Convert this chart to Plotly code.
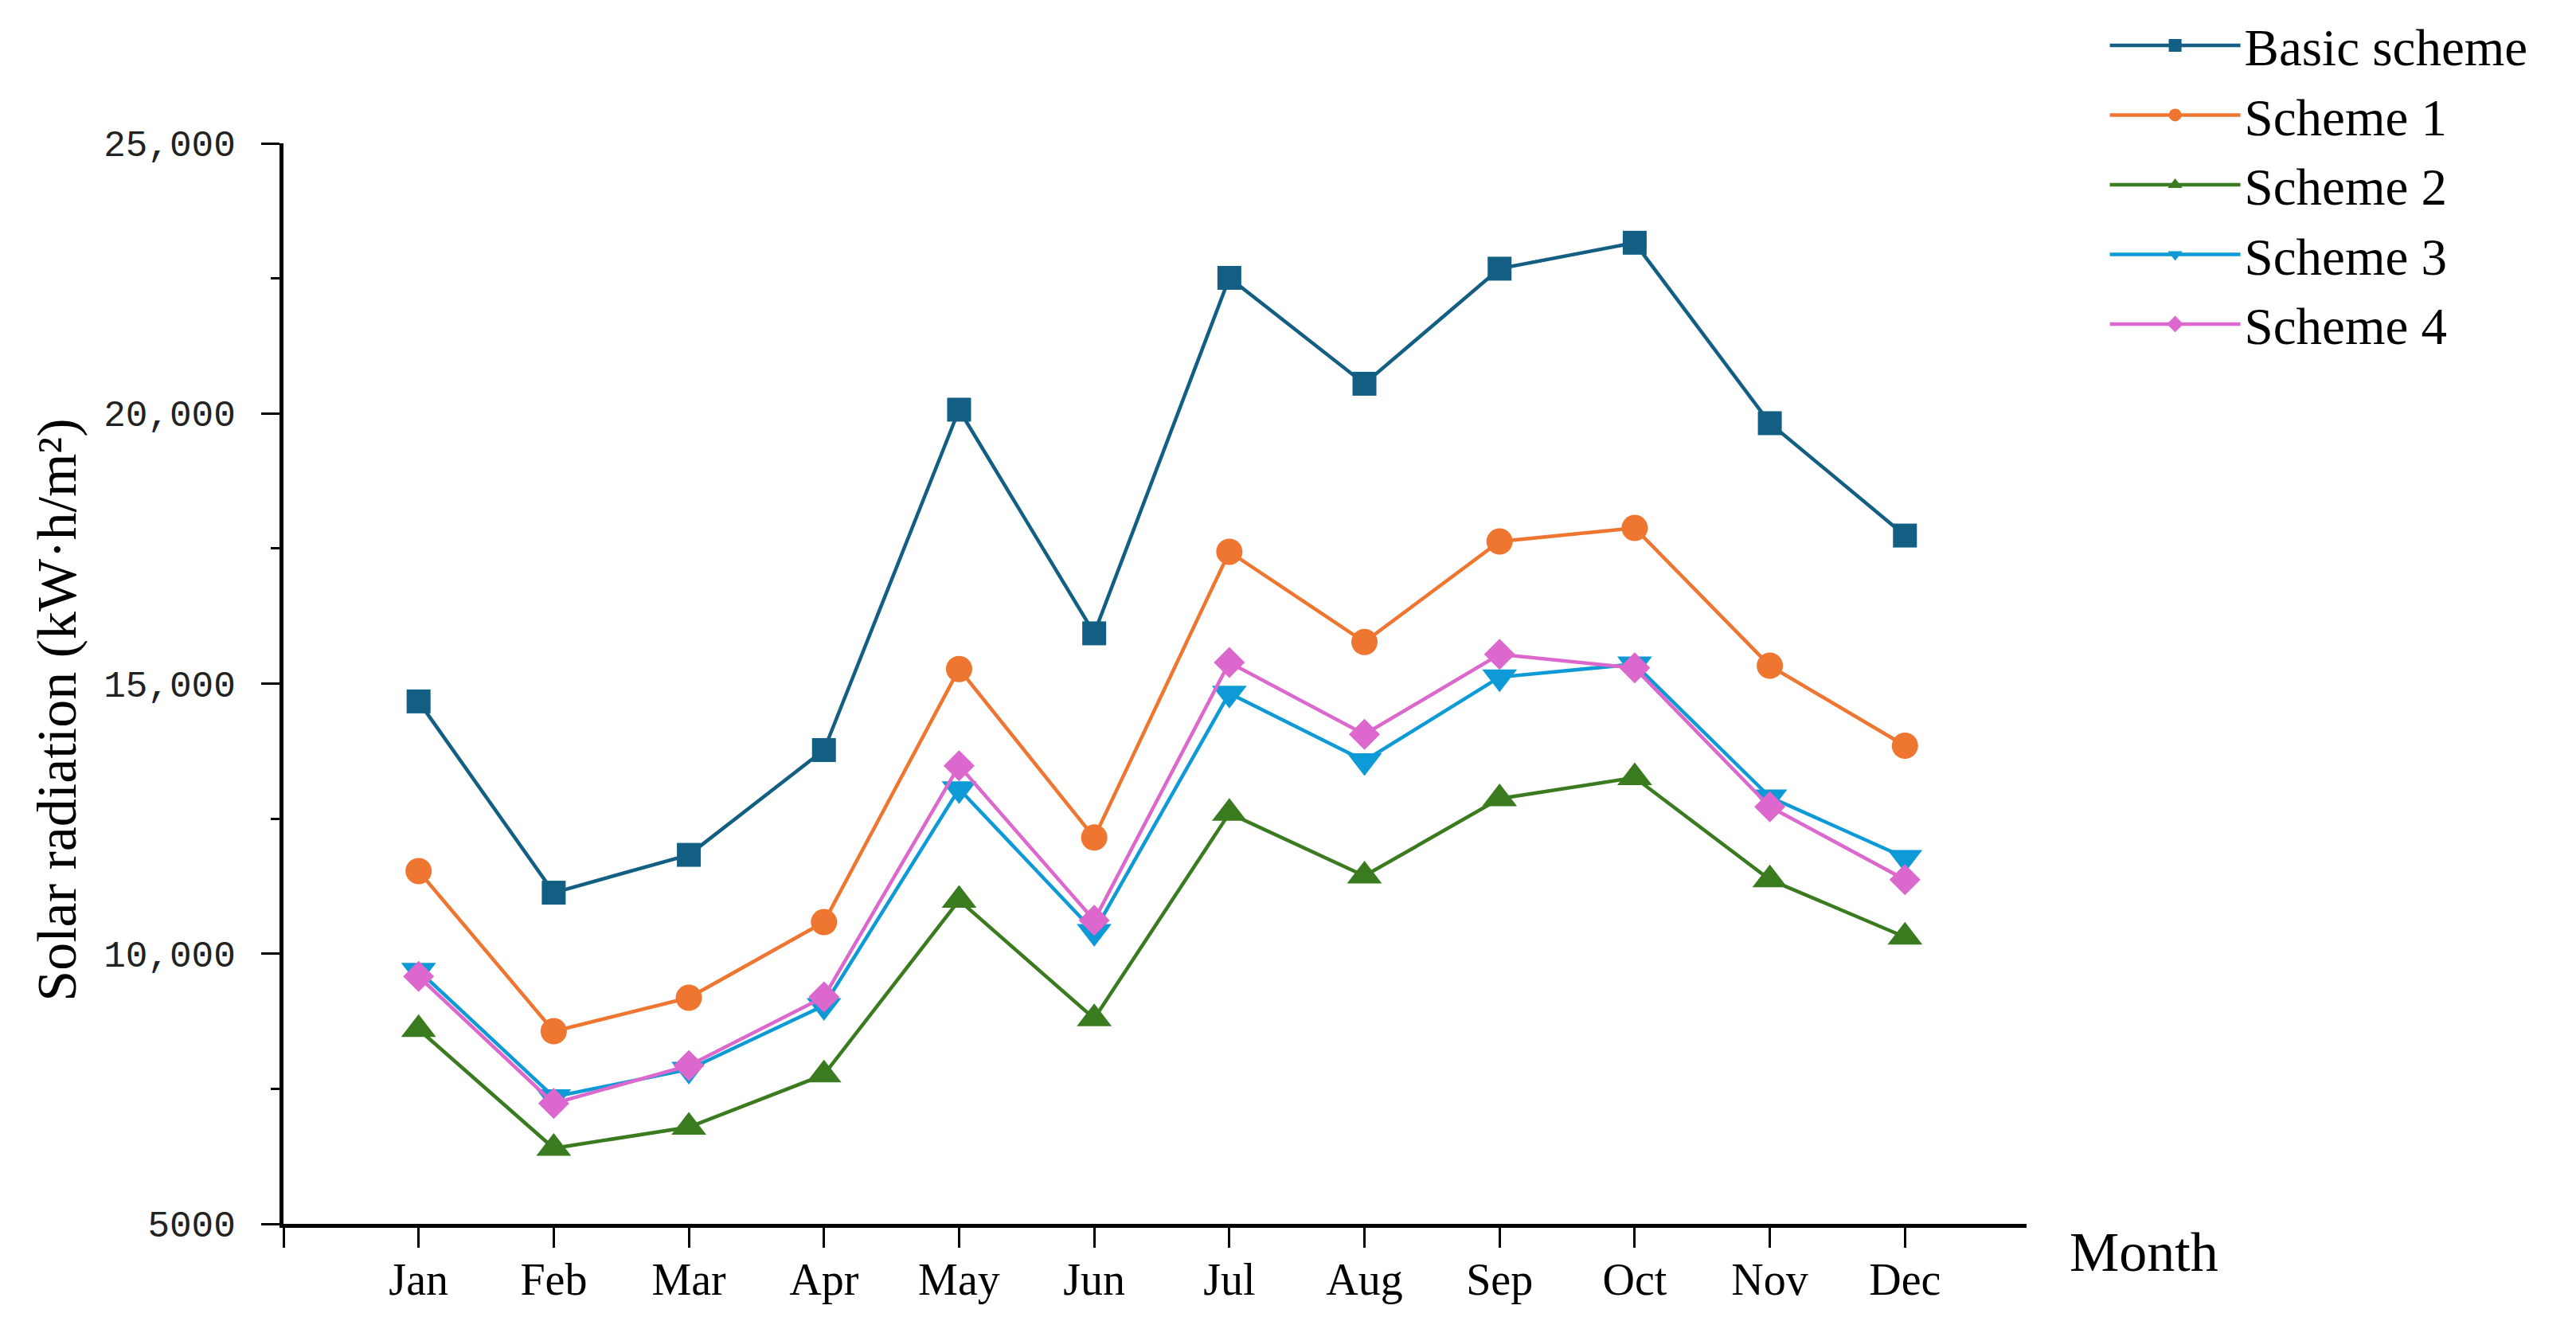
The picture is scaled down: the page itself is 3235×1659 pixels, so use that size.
import plotly.graph_objects as go

months = ["Jan", "Feb", "Mar", "Apr", "May", "Jun", "Jul", "Aug", "Sep", "Oct", "Nov", "Dec"]
basic = [14670, 11130, 11830, 13770, 20070, 15930, 22510, 20550, 22680, 23160, 19820, 17740]
scheme1 = [11530, 8565, 9185, 10585, 15270, 12150, 17440, 15770, 17630, 17880, 15330, 13850]
scheme2 = [8600, 6400, 6790, 7760, 10990, 8800, 12600, 11440, 12870, 13260, 11370, 10310]
scheme3 = [9690, 7350, 7860, 9040, 13050, 10410, 14820, 13570, 15120, 15360, 12900, 11780]
scheme4 = [9580, 7230, 7930, 9200, 13480, 10620, 15390, 14060, 15540, 15290, 12720, 11370]

y_tickvals = [5000, 10000, 15000, 20000, 25000]
y_ticktext = ["5000", "10,000", "15,000", "20,000", "25,000"]

x_pos = list(range(1, len(months) + 1))

series = [
    ("Basic scheme", basic, "#125f83", "square", 30),
    ("Scheme 1", scheme1, "#ee7631", "circle", 33),
    ("Scheme 2", scheme2, "#3a7b20", "triangle-up", 38),
    ("Scheme 3", scheme3, "#0d9ad6", "triangle-down", 38),
    ("Scheme 4", scheme4, "#dc68cd", "diamond", 30),
]

fig = go.Figure()
for name, vals, color, sym, size in series:
    fig.add_trace(go.Scatter(
        x=x_pos, y=vals, name=name, mode="lines+markers",
        line=dict(color=color, width=4.5),
        marker=dict(symbol=sym, size=size, color=color, line=dict(width=0)),
    ))

# page body has an 8px default margin; compensate so the plot lands where the reference has it
W, H = 3227, 1651
L, R, T, B = 348, 690, 172, 122

fig.update_layout(
    width=W, height=H, autosize=False,
    margin=dict(l=L, r=R, t=T, b=B, pad=0, autoexpand=False),
    paper_bgcolor="white", plot_bgcolor="white",
    font=dict(family="Liberation Serif, Times New Roman, serif", color="black"),
    showlegend=True,
    legend=dict(
        x=1.0455, y=1.1266, xanchor="left", yanchor="top",
        font=dict(size=65, family="Liberation Serif, serif", color="black"),
        bgcolor="rgba(0,0,0,0)", borderwidth=0, itemwidth=164,
        tracegroupgap=0,
    ),
    xaxis=dict(
        range=[0, 12.9], tickmode="array",
        tickvals=[0] + x_pos, ticktext=[""] + months,
        showgrid=False, zeroline=False,
        showline=True, linecolor="black", linewidth=5,
        ticks="outside", ticklen=25, tickwidth=3, tickcolor="black",
        tickfont=dict(size=56, family="Liberation Serif, serif", color="black"),
        ticklabelstandoff=-8,
    ),
    yaxis=dict(
        range=[5000, 25000], tickmode="array",
        tickvals=y_tickvals, ticktext=y_ticktext,
        showgrid=False, zeroline=False,
        showline=True, linecolor="black", linewidth=5,
        ticks="outside", ticklen=23, tickwidth=3, tickcolor="black",
        tickfont=dict(size=46, family="Liberation Mono, monospace", color="#222222"),
        ticklabelstandoff=23,
        minor=dict(dtick=2500, tick0=0, ticks="outside", ticklen=11, tickwidth=3, tickcolor="black"),
    ),
    annotations=[
        dict(text="Solar radiation (kW·h/m²)", xref="paper", yref="paper",
             x=-0.1303, y=0.4753, xanchor="center", yanchor="middle",
             textangle=-90, showarrow=False,
             font=dict(size=70, family="Liberation Serif, serif", color="black")),
        dict(text="Month", xref="paper", yref="paper",
             x=1.0236, y=-0.0258, xanchor="left", yanchor="middle",
             showarrow=False,
             font=dict(size=70, family="Liberation Serif, serif", color="black")),
    ],
)

fig.write_html("out.html")
